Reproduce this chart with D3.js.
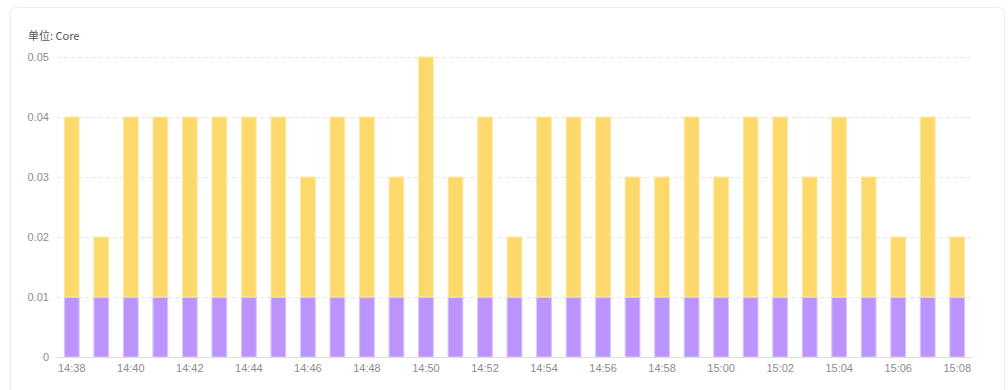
<!DOCTYPE html>
<html>
<head>
<meta charset="utf-8">
<script src="https://cdn.jsdelivr.net/npm/d3@7"></script>
<style>
  body { margin: 0; background: #fff; }
  svg { display: block; font-family: "Noto Sans CJK SC", "Open Sans", sans-serif; }
</style>
</head>
<body>
<div id="chart"></div>
<script>
// times, one bar per minute
const times = ['14:38','14:39','14:40','14:41','14:42','14:43','14:44','14:45','14:46','14:47',
  '14:48','14:49','14:50','14:51','14:52','14:53','14:54','14:55','14:56','14:57',
  '14:58','14:59','15:00','15:01','15:02','15:03','15:04','15:05','15:06','15:07','15:08']
// bottom series (purple)
const used = [0.01,0.01,0.01,0.01,0.01,0.01,0.01,0.01,0.01,0.01,
  0.01,0.01,0.01,0.01,0.01,0.01,0.01,0.01,0.01,0.01,
  0.01,0.01,0.01,0.01,0.01,0.01,0.01,0.01,0.01,0.01,0.01]
// top series (yellow)
const extra = [0.03,0.01,0.03,0.03,0.03,0.03,0.03,0.03,0.02,0.03,
  0.03,0.02,0.04,0.02,0.03,0.01,0.03,0.03,0.03,0.02,
  0.02,0.03,0.02,0.03,0.03,0.02,0.03,0.02,0.01,0.03,0.01]
const yTicks = [0, 0.01, 0.02, 0.03, 0.04, 0.05]

const width = 1008, height = 390
const plotLeft = 57, plotRight = 972, plotTop = 57, plotBottom = 357

const svg = d3.select('#chart').append('svg')
  .attr('width', width)
  .attr('height', height)

// card
svg.append('rect')
  .attr('x', 10.5).attr('y', 7.5)
  .attr('width', 994).attr('height', 400)
  .attr('rx', 6)
  .attr('fill', '#fff')
  .attr('stroke', '#ececec')

const x = d3.scaleBand()
  .domain(times)
  .range([plotLeft, plotRight])
  .paddingInner(0.5)
  .paddingOuter(0.25)

const y = d3.scaleLinear()
  .domain([0, 0.05])
  .range([plotBottom, plotTop])

// grid
svg.append('g')
  .selectAll('line')
  .data(yTicks.filter(d => d > 0))
  .enter().append('line')
  .attr('x1', plotLeft).attr('x2', plotRight)
  .attr('y1', d => Math.round(y(d)) + 0.5)
  .attr('y2', d => Math.round(y(d)) + 0.5)
  .attr('stroke', '#e6e6e6')
  .attr('stroke-dasharray', '4,3')

// y labels
const yAxis = d3.axisLeft(y).tickValues(yTicks).tickSize(0).tickPadding(8)
  .tickFormat(d => d === 0 ? '0' : d3.format('.2f')(d))
const gy = svg.append('g').attr('transform', `translate(${plotLeft},0)`).call(yAxis)
gy.select('.domain').remove()
gy.selectAll('text').attr('fill', '#8c8c8c').style('font-size', '11px')

// stacked bars
const rows = times.map((t, i) => ({ time: t, used: used[i], extra: extra[i] }))
const stack = d3.stack().keys(['used', 'extra'])(rows)
const colors = { used: '#bb95fd', extra: '#fdd96c' }
const strokes = { used: '#d9c4fe', extra: '#feeaa9' }

svg.append('g')
  .selectAll('g')
  .data(stack)
  .enter().append('g')
  .attr('fill', d => colors[d.key])
  .attr('stroke', d => strokes[d.key])
  .selectAll('rect')
  .data(d => d)
  .enter().append('rect')
  .attr('x', d => x(d.data.time))
  .attr('y', d => y(d[1]))
  .attr('width', x.bandwidth())
  .attr('height', d => y(d[0]) - y(d[1]))

// x axis
const xAxis = d3.axisBottom(x)
  .tickValues(times.filter((t, i) => i % 2 === 0))
  .tickSize(0).tickPadding(7)
const gx = svg.append('g').attr('transform', `translate(0,${plotBottom})`).call(xAxis)
gx.select('.domain').attr('stroke', '#dcdcdc').attr('d', `M${plotLeft},0.5H${plotRight}`)
gx.selectAll('text').attr('fill', '#8c8c8c').style('font-size', '11px')

// unit
svg.append('text')
  .attr('x', 28).attr('y', 40)
  .attr('fill', '#555')
  .style('font-size', '11px')
  .text('单位: Core')
</script>
</body>
</html>
